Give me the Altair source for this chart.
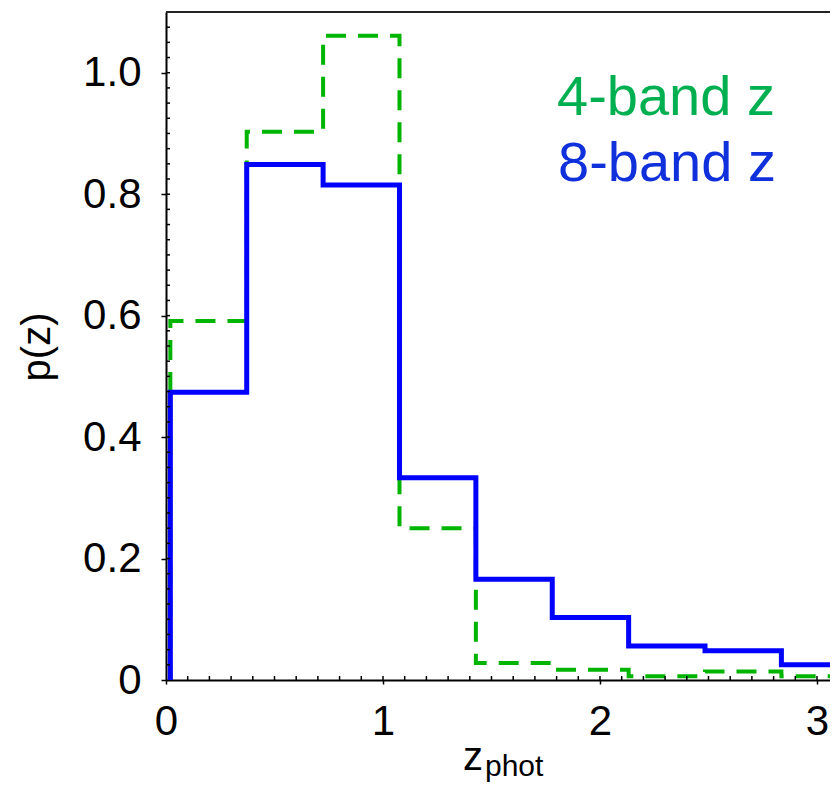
import altair as alt
import pandas as pd

# ---- data ----
bin_edges = [0.02, 0.372, 0.724, 1.076, 1.428, 1.78, 2.132, 2.484, 2.836, 3.188]
pz_8band = [0.474, 0.849, 0.815, 0.333, 0.166, 0.103, 0.056, 0.048, 0.025]
pz_4band = [0.591, 0.903, 1.061, 0.250, 0.028, 0.017, 0.006, 0.014, 0.006]
x_tick_labels = [0, 1, 2, 3]
y_tick_labels = [0, 0.2, 0.4, 0.6, 0.8, 1.0]
y_minor = [round(0.025 * i, 3) for i in range(1, 44)]
x_minor = [round(0.1 * i, 1) for i in range(1, 31)]

W, H = 664, 668
FONT = "Liberation Sans"


def step_frame(vals):
    xs = [bin_edges[0]] + bin_edges[:-1] + [bin_edges[-1]]
    ys = [0] + vals + [vals[-1]]
    return pd.DataFrame({"x": xs, "y": ys, "i": list(range(len(xs)))})


xsc = alt.Scale(domain=[0, 3.06], nice=False, zero=False)
ysc = alt.Scale(domain=[0, 1.1], nice=False)
xaxis = alt.Axis(values=x_tick_labels, format="d", title=None, grid=False,
                 labelFont=FONT, labelFontSize=42, labelColor="black",
                 labelPadding=17, labelFlush=False, labelOverlap=False,
                 tickSize=4, tickColor="black", tickWidth=1.5,
                 domainColor="black", domainWidth=2)
yaxis = alt.Axis(values=y_tick_labels, title=None, grid=False,
                 labelExpr="datum.value == 0 ? '0' : format(datum.value, '.1f')",
                 labelFont=FONT, labelFontSize=42, labelColor="black",
                 labelPadding=20, labelOverlap=False, labelFlush=False,
                 tickSize=5, tickColor="black", tickWidth=1.5,
                 domainColor="black", domainWidth=2)

X = lambda: alt.X("x:Q", scale=xsc, axis=xaxis)
Y = lambda: alt.Y("y:Q", scale=ysc, axis=yaxis)

green = alt.Chart(step_frame(pz_4band)).mark_line(
    interpolate="step-after", color="#00B400", strokeWidth=4,
    strokeDash=[20, 12], clip=True
).encode(x=X(), y=Y(), order="i:Q")

blue = alt.Chart(step_frame(pz_8band)).mark_line(
    interpolate="step-after", color="#0000FF", strokeWidth=5, clip=True
).encode(x=X(), y=Y(), order="i:Q")

yticks_in = alt.Chart(pd.DataFrame({"y": y_minor})).mark_rule(
    color="black", strokeWidth=1.5
).encode(y=Y(), x=alt.value(0), x2=alt.value(4))

xticks_in = alt.Chart(pd.DataFrame({"x": x_minor})).mark_rule(
    color="black", strokeWidth=1.5
).encode(x=X(), y=alt.value(H), y2=alt.value(H - 4))

top_border = alt.Chart(pd.DataFrame({"t": [1]})).mark_rule(
    color="#222222", strokeWidth=2
).encode(x=alt.value(0), x2=alt.value(W), y=alt.value(0))

leg4 = alt.Chart(pd.DataFrame({"t": ["4-band z"]})).mark_text(
    font=FONT, fontSize=56, align="left", baseline="alphabetic", color="#00B050"
).encode(text="t:N", x=alt.value(391), y=alt.value(103))

leg8 = alt.Chart(pd.DataFrame({"t": ["8-band z"]})).mark_text(
    font=FONT, fontSize=56, align="left", baseline="alphabetic", color="#1030DC"
).encode(text="t:N", x=alt.value(392), y=alt.value(169))

xt_main = alt.Chart(pd.DataFrame({"t": ["z"]})).mark_text(
    font=FONT, fontSize=40, align="left", baseline="alphabetic", color="black"
).encode(text="t:N", x=alt.value(297), y=alt.value(758))

xt_sub = alt.Chart(pd.DataFrame({"t": ["phot"]})).mark_text(
    font=FONT, fontSize=30, align="left", baseline="alphabetic", color="black"
).encode(text="t:N", x=alt.value(319), y=alt.value(764))

ytitle = alt.Chart(pd.DataFrame({"t": ["p(z)"]})).mark_text(
    font=FONT, fontSize=40, align="center", baseline="alphabetic", angle=270,
    color="black"
).encode(text="t:N", x=alt.value(-116), y=alt.value(335))

chart = alt.layer(
    green, blue, yticks_in, xticks_in, top_border, leg4, leg8, xt_main, xt_sub, ytitle
).properties(
    width=W, height=H,
    padding={"left": 158, "top": 4, "right": 0, "bottom": 102},
    autosize=alt.AutoSizeParams(type="none"),
).configure_view(stroke=None)

chart.save("out.html", embed_options={"renderer": "svg", "actions": False})
